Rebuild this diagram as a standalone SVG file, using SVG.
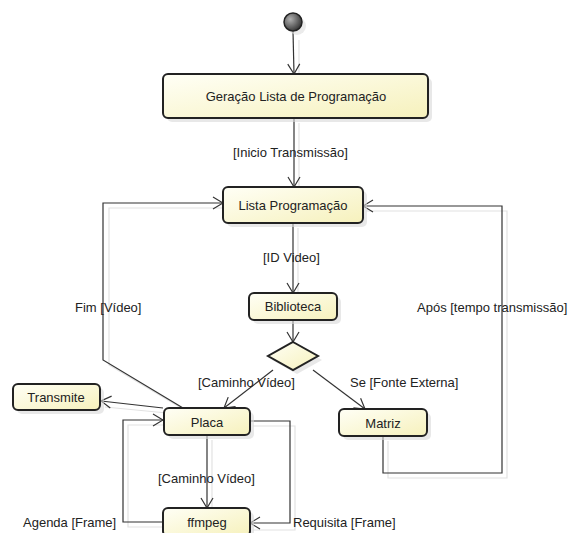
<svg xmlns="http://www.w3.org/2000/svg" width="573" height="533" viewBox="0 0 573 533">
<defs>
<linearGradient id="nodeFill" x1="0" y1="0" x2="1" y2="1">
<stop offset="0" stop-color="#fffff6"/>
<stop offset="1" stop-color="#f6f1bc"/>
</linearGradient>
<radialGradient id="initFill" cx="0.35" cy="0.35" r="0.75">
<stop offset="0" stop-color="#b0b0b0"/>
<stop offset="1" stop-color="#2a2a2a"/>
</radialGradient>
<marker id="arr" markerWidth="12" markerHeight="14" refX="11" refY="7" orient="auto" markerUnits="userSpaceOnUse">
<path d="M1,1 L11,7 L1,13" fill="none" stroke="#333" stroke-width="1.2"/>
</marker>
</defs>
<style>
.node rect.box{fill:url(#nodeFill);stroke:#222;stroke-width:2}
.node rect.sh{fill:#d8d8d8;opacity:0.6}
.node polygon.box{fill:url(#nodeFill);stroke:#222;stroke-width:2}
.node text,.lbl{font-family:"Liberation Sans",Arial,sans-serif;font-size:13px;fill:#222}
.node text{text-anchor:middle}
.c{fill:none;stroke:#333;stroke-width:1.2}
.a{marker-end:url(#arr)}
.g{fill:none;stroke:#e2e2e2;stroke-width:1.2}
</style>
<g id="connectors">
<g id="ghosts">
<path class="g" d="M299,40 L299,79"/>
<path class="g" d="M299,123 L299,190"/>
<path class="g" d="M298,228 L298,296"/>
<path class="g" d="M188,412 L109,365 L109,208 L226,208"/>
<path class="g" d="M388,441 L388,478 L507,478 L507,211 L366,211"/>
<path class="g" d="M212,440 L212,511"/>
<path class="g" d="M166,527 L128,527 L128,425 L166,425"/>
<path class="g" d="M253,426 L295,426 L295,530 L253,530"/>
<path class="g" d="M167,413 L105,407"/>
</g>
<path class="c a" d="M293,31 L294,74"/>
<path class="c a" d="M294,118 L294,187"/>
<path class="c a" d="M293,223 L293,293"/>
<path class="c a" d="M293,320 L293,342"/>
<path class="c a" d="M273,370 L224,408"/>
<path class="c a" d="M313,370 L365,409"/>
<path class="c a" d="M163,408 L101,401"/>
<path class="c a" d="M183,408 L103,360 L103,203 L223,203"/>
<path class="c a" d="M383,436 L383,473 L502,473 L502,206 L363,206"/>
<path class="c a" d="M207,435 L207,508"/>
<path class="c a" d="M163,522 L123,522 L123,420 L163,420"/>
<path class="c a" d="M250,421 L290,421 L290,523 L250,523"/>
<text class="lbl" x="233" y="157">[Inicio Transmissão]</text>
<text class="lbl" x="263" y="262">[ID Video]</text>
<text class="lbl" x="75" y="312">Fim [Vídeo]</text>
<text class="lbl" x="417" y="312">Após [tempo transmissão]</text>
<text class="lbl" x="198" y="387">[Caminho Vídeo]</text>
<text class="lbl" x="350" y="387">Se [Fonte Externa]</text>
<text class="lbl" x="158" y="483">[Caminho Vídeo]</text>
<text class="lbl" x="23" y="527">Agenda [Frame]</text>
<text class="lbl" x="293" y="527">Requisita [Frame]</text>
</g>
<g id="start" class="node">
<circle cx="297" cy="26" r="9" fill="#ddd" opacity="0.6"/>
<circle cx="293" cy="22" r="9" fill="url(#initFill)" stroke="#222" stroke-width="1.5"/>
</g>
<g id="geracao" class="node">
<rect class="sh" x="167" y="78" width="265" height="44" rx="5"/>
<rect class="box" x="163" y="74" width="265" height="44" rx="5"/>
<text x="296" y="101">Geração Lista de Programação</text>
</g>
<g id="lista" class="node">
<rect class="sh" x="227" y="191" width="140" height="36" rx="5"/>
<rect class="box" x="223" y="187" width="140" height="36" rx="5"/>
<text x="293" y="210">Lista Programação</text>
</g>
<g id="biblioteca" class="node">
<rect class="sh" x="253" y="297" width="88" height="27" rx="5"/>
<rect class="box" x="249" y="293" width="88" height="27" rx="5"/>
<text x="293" y="311">Biblioteca</text>
</g>
<g id="decisao" class="node">
<polygon points="297,346 322,360 297,374 272,360" fill="#d8d8d8" opacity="0.6"/>
<polygon class="box" points="293,342 318,356 293,370 268,356"/>
</g>
<g id="transmite" class="node">
<rect class="sh" x="17" y="388" width="87" height="26" rx="5"/>
<rect class="box" x="13" y="384" width="87" height="26" rx="5"/>
<text x="56" y="402">Transmite</text>
</g>
<g id="placa" class="node">
<rect class="sh" x="168" y="412" width="86" height="27" rx="5"/>
<rect class="box" x="164" y="408" width="86" height="27" rx="5"/>
<text x="207" y="427">Placa</text>
</g>
<g id="matriz" class="node">
<rect class="sh" x="343" y="413" width="88" height="27" rx="5"/>
<rect class="box" x="339" y="409" width="88" height="27" rx="5"/>
<text x="383" y="428">Matriz</text>
</g>
<g id="ffmpeg" class="node">
<rect class="sh" x="167" y="512" width="87" height="28" rx="5"/>
<rect class="box" x="163" y="508" width="87" height="28" rx="5"/>
<text x="207" y="527">ffmpeg</text>
</g>
</svg>
